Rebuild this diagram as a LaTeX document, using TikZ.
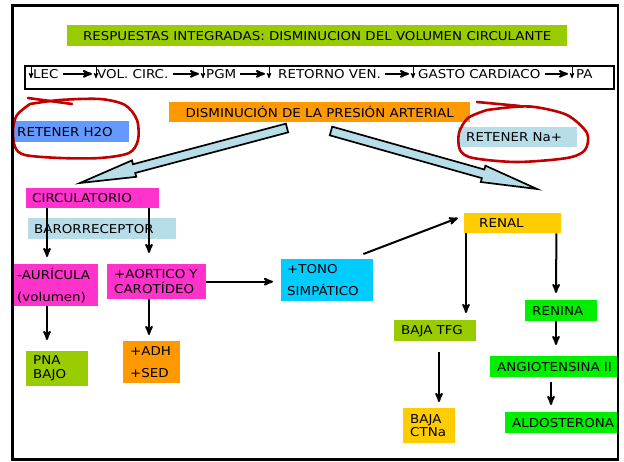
\documentclass[tikz,border=0pt]{standalone}
\usepackage{fontspec}
\setmainfont{DejaVu Sans}[FakeStretch=1.1]
\usetikzlibrary{positioning, arrows, calc}

\definecolor{verdeoliva}{HTML}{99CC00}
\definecolor{naranja}{HTML}{FF9900}
\definecolor{azul}{HTML}{6699FF}
\definecolor{celeste}{HTML}{B7DEE8}
\definecolor{rosa}{HTML}{FF33CC}
\definecolor{cian}{HTML}{00CCFF}
\definecolor{amarillo}{HTML}{FFCC00}
\definecolor{verde}{HTML}{00EE00}
\definecolor{rojo}{HTML}{C00000}

\tikzset{
>=stealth', % puntas de flecha
caja/.style={anchor=north west, inner xsep=7pt, inner ysep=0pt, align=left, font=\fontsize{12.2}{14}\selectfont}, % cajas de color
paso/.style={anchor=base west, inner sep=0pt, font=\fontsize{12.2}{14}\selectfont}, % textos de la fila
flecha/.style={->, line width=2pt}, % flechas entre cajas
flechita/.style={->, line width=2pt, shorten <=4pt, shorten >=4pt}, % flechas de la fila
bajada/.style={->, line width=0.9pt}, % flechas de descenso
ancha/.style={draw, line width=1.7pt, fill=celeste, line join=miter}, % flechas grandes
marca/.style={draw=rojo, line width=2.6pt, line cap=round, line join=round}, % trazos a mano
}

\begin{document}
\begin{tikzpicture}[x=1pt, y=-1pt]
\useasboundingbox (0,0) rectangle (624,462);

% titulo
\node[caja, fill=verdeoliva, minimum width=500pt, minimum height=21pt, align=center] (titulo) at (67,25) {RESPUESTAS INTEGRADAS: DISMINUCION DEL VOLUMEN CIRCULANTE};

% fila de consecuencias
\node[draw, line width=2pt, anchor=north west, inner sep=0pt, minimum width=589pt, minimum height=23pt] (fila) at (23.5,65) {};
\node[paso] (lec) at (33,78.3) {LEC};
\node[paso] (vol) at (97,78.3) {VOL. CIRC.};
\node[paso] (pgm) at (206,78.3) {PGM};
\node[paso] (ret) at (278,78.3) {RETORNO VEN.};
\node[paso] (gc) at (418,78.3) {GASTO CARDIACO};
\node[paso] (pa) at (576,78.3) {PA};
\coordinate (blec) at (31,67);
\coordinate (bvol) at (96,67);
\coordinate (bpgm) at (203,67);
\coordinate (bret) at (269,67);
\coordinate (bgc) at (413,67);
\coordinate (bpa) at (572,67);
\foreach \b/\n in {blec/lec, bvol/vol, bpgm/pgm, bret/ret, bgc/gc, bpa/pa}
  \draw[bajada] (\b) -- (\b |- \n.base);
\foreach \a/\b in {lec/bvol, vol/bpgm, pgm/bret, ret/bgc, gc/bpa}
  \draw[flechita] (\a.east) -- (\a.east -| \b);

% cajas
\node[caja, fill=naranja, minimum width=301pt, minimum height=20pt, align=center] (dism) at (169,102) {DISMINUCIÓN DE LA PRESIÓN ARTERIAL};
\node[caja, fill=azul, inner xsep=3pt, text width=109pt, minimum height=21pt] (agua) at (14,121) {RETENER~H2O};
\node[caja, fill=celeste, inner xsep=8pt, text width=103pt, minimum height=20pt] (sodio) at (458,127) {RETENER~Na+};
\node[caja, fill=rosa, inner xsep=6pt, text width=121pt, minimum height=20pt] (circ) at (26,188) {CIRCULATORIO};
\node[caja, fill=celeste, inner xsep=6pt, text width=136pt, minimum height=21pt] (baro) at (28,218) {BARORRECEPTOR};
\node[caja, fill=rosa, inner xsep=4pt, text width=77pt, minimum height=42pt] (auri) at (13,264) {-AURÍCULA\\[8pt](volumen)};
\node[caja, fill=rosa, text width=85pt, minimum height=35pt] (aort) at (107,264) {+AORTICO~Y\\[1pt]CAROTÍDEO};
\node[caja, fill=cian, inner xsep=6pt, text width=80pt, minimum height=42pt] (tono) at (281,259) {+TONO\\[8pt]SIMPÁTICO};
\node[caja, fill=verdeoliva, text width=48pt, minimum height=35pt] (pna) at (26,351) {PNA\\BAJO};
\node[caja, fill=naranja, text width=43pt, minimum height=42pt] (adh) at (123,341) {+ADH\\[8pt]+SED};
\node[caja, fill=amarillo, inner xsep=15pt, text width=67pt, minimum height=20pt] (renal) at (464,213) {RENAL};
\node[caja, fill=verdeoliva, text width=68pt, minimum height=21pt] (tfg) at (394,320) {BAJA~TFG};
\node[caja, fill=amarillo, text width=38pt, minimum height=35pt] (ctna) at (403,408) {BAJA\\[-1pt]CTNa};
\node[caja, fill=verde, text width=58pt, minimum height=21pt] (renina) at (525,300) {RENINA};
\node[caja, fill=verde, text width=114pt, minimum height=21pt] (angio) at (490,356) {ANGIOTENSINA~II};
\node[caja, fill=verde, text width=99pt, minimum height=21pt] (aldo) at (505,412) {ALDOSTERONA};

% trazos rojos
\draw[marca] plot[smooth] coordinates {(30,104) (60,100) (100,99) (125,105) (137,120) (138,140) (129,153) (100,158) (60,158) (25,155) (15,147) (13,130) (17,115) (30,104)};
\draw[marca] (28,98) -- (72,104);
\draw[marca] plot[smooth] coordinates {(487,110) (513,107) (535,107) (567,115) (587,133) (585,150) (567,158) (517,162) (473,158) (460,150) (459,133) (468,118) (487,110)};
\draw[marca] (477,102) -- (520,106);

% flechas grandes
\coordinate (colaizq) at (287,128);
\coordinate (puntaizq) at (80,183);
\coordinate (colader) at (331,131);
\coordinate (puntader) at (537,189);
\foreach \c/\p in {colaizq/puntaizq, colader/puntader} {
  \coordinate (base) at ($(\p)!56pt!(\c)$);
  \draw[ancha] ($(\c)!4.5pt!90:(\p)$) -- ($(base)!4.5pt!90:(\p)$) -- ($(base)!8.5pt!90:(\p)$) -- (\p)
    -- ($(base)!8.5pt!-90:(\p)$) -- ($(base)!4.5pt!-90:(\p)$) -- ($(\c)!4.5pt!-90:(\p)$) -- cycle;
}

% conexiones
\draw[flecha, shorten >=7pt] ([xshift=21pt]circ.south west) -- ([xshift=34pt]auri.north west);
\draw[flecha, shorten >=11pt] ([xshift=123pt]circ.south west) -- ([xshift=42pt]aort.north west);
\draw[flecha, shorten >=11pt] ([xshift=34pt]auri.south west) -- ([xshift=21pt]pna.north west);
\draw[flecha, shorten >=6pt] ([xshift=42pt]aort.south west) -- ([xshift=26pt]adh.north west);
\draw[flecha, shorten >=8pt] (aort.east) -- (aort.east -| tono.west);
\draw[flecha] ([xshift=-10pt, yshift=5pt]tono.north east) -- ([xshift=-6pt, yshift=-5pt]renal.north west);
\draw[flecha, shorten >=7pt] ([xshift=2pt]renal.south west) -- ([xshift=72pt]tfg.north west);
\draw[flecha, shorten >=7pt] ([xshift=-5pt]renal.south east) -- ([xshift=31pt]renina.north west);
\draw[flecha, shorten >=11pt] ([xshift=31pt]renina.south west) -- ([xshift=66pt]angio.north west);
\draw[flecha, shorten <=11pt, shorten >=6pt] ([xshift=45pt]tfg.south west) -- ([xshift=36pt]ctna.north west);
\draw[flecha, shorten <=5pt, shorten >=7pt] ([xshift=61pt]angio.south west) -- ([xshift=46pt]aldo.north west);

% marco
\draw[line width=2.5pt] (12.5,5.5) rectangle (618,459.5);
\end{tikzpicture}
\end{document}
